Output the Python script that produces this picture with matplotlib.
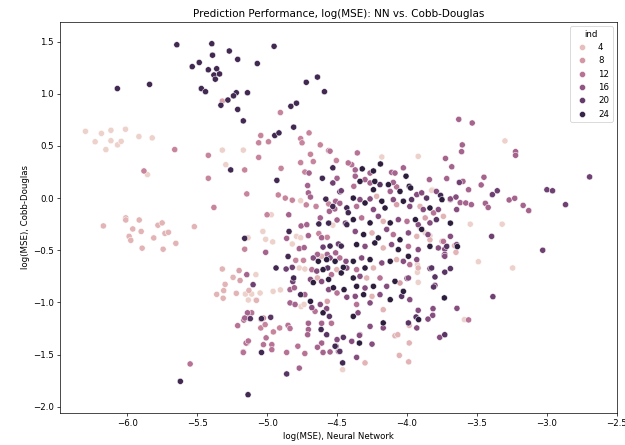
import matplotlib
matplotlib.use("Agg")
import matplotlib.pyplot as plt
import pandas as pd
import seaborn as sns

# (log MSE neural network, log MSE Cobb-Douglas), grouped by colour of ind
light_points = [
    (-6.298, 0.64), (-6.229, 0.54), (-6.184, 0.62), (-6.116, 0.65), (-6.116, 0.55), (-6.152, 0.465),
    (-6.069, 0.51), (-6.043, 0.544), (-6.012, 0.66), (-5.916, 0.59), (-5.821, 0.577),
    (-5.855, 0.225), (-5.32, 0.46), (-5.295, 0.32), (-5.17, 0.46), (-4.76, -0.025), (-4.97, -0.16),
    (-3.30, 0.548), (-3.92, 0.40), (-3.82, 0.08), (-3.548, -0.25), (-3.32, -0.25), (-3.49, -0.61),
    (-3.245, -0.67), (-3.59, -1.165), (-4.53, -0.26), (-5.136, -0.38), (-5.03, -0.32), (-5.01, -0.395),
    (-4.96, -0.42), (-4.82, -0.44), (-4.79, -0.367), (-4.76, -0.38), (-5.08, -0.734), (-5.155, -0.92),
    (-5.11, -0.92), (-5.134, -0.977), (-5.08, -0.977), (-5.05, -0.91), (-4.957, -0.894), (-4.905, -0.88),
    (-4.77, -0.67), (-4.73, -0.68), (-4.757, -1.04), (-4.736, -1.02), (-5.045, -1.165), (-4.46, -1.645),
    (-4.18, 0.394), (-3.824, 0.074), (-3.92, -0.808), (-3.926, -0.712), (-3.926, -0.64), (-3.907, -0.286),
    (-3.87, -0.334), (-3.836, -0.36), (-3.66, -0.456), (-3.65, -0.52), (-3.75, -0.415), (-3.984, -1.22),
    (-3.984, -1.389), (-4.055, -1.508), (-3.988, -1.57), (-4.086, -1.32), (-4.066, -1.31), (-4.30, -1.58),
    (-6.17, -0.267), (-6.01, -0.19), (-6.01, -0.21), (-5.96, -0.296), (-5.914, -0.21), (-5.90, -0.32),
    (-5.986, -0.367), (-5.974, -0.405), (-5.893, -0.48), (-5.81, -0.382), (-5.78, -0.26), (-5.75, -0.238),
    (-5.73, -0.338), (-5.705, -0.328), (-5.743, -0.49), (-5.652, -0.434), (-5.52, -0.274),
    (-5.32, -0.68), (-5.30, -0.827), (-5.36, -0.923), (-5.31, -0.887), (-5.314, -0.96), (-5.243, -0.76),
    (-5.22, -0.913), (-5.13, -0.885), (-5.076, -0.98),
    (-4.217, 0.017), (-3.907, -0.08), (-3.74, -0.175), (-4.17, -0.223), (-4.25, -0.334), (-3.93, -0.367),
    (-4.17, -0.478), (-3.836, -0.40), (-4.24, -0.67), (-4.074, -0.59), (-3.92, -0.67), (-4.288, -0.766),
    (-4.25, -0.942), (-4.17, -1.07), (-4.64, -0.765), (-4.61, -0.558), (-4.502, -0.686),
]
rose_points = [
    (-5.20, -0.695), (-5.193, -0.79), (-4.074, -0.063), (-3.87, -0.19), (-4.05, -0.814), (-4.57, -0.99),
    (-5.32, 0.93),
]
pink_points = [
    (-4.905, 0.82), (-5.66, 0.465), (-5.88, 0.26), (-5.42, 0.41), (-5.16, 0.27), (-5.42, 0.19),
    (-5.145, 0.04), (-5.38, -0.09), (-5.06, 0.53), (-5.045, 0.60), (-4.99, 0.54), (-5.06, 0.39),
    (-4.9, 0.285), (-4.92, 0.03), (-4.87, 0.0), (-4.82, -0.02), (-4.72, -0.065), (-5.0, -0.16),
    (-4.76, 0.57), (-4.75, 0.53), (-4.70, 0.625), (-4.62, 0.51), (-4.56, 0.455), (-4.76, 0.34),
    (-4.69, 0.42), (-4.67, 0.35), (-4.73, 0.25), (-4.65, -0.08), (-4.505, 0.36), (-4.56, -0.056),
    (-4.63, -0.34), (-4.57, -0.376), (-5.16, -0.49), (-4.795, -0.597), (-4.74, -0.597), (-5.026, -1.15),
    (-5.045, -1.245), (-5.014, -1.213), (-4.955, -1.283), (-4.91, -1.245), (-4.85, -1.22), (-4.836, -1.25),
    (-5.007, -1.34), (-5.026, -1.405), (-4.966, -1.405), (-5.145, -1.39), (-5.17, -1.475), (-4.966, -1.453),
    (-4.86, -1.48), (-4.78, -1.42), (-4.73, -1.49), (-4.54, -1.2), (-5.55, -1.59), (-5.21, -1.223),
    (-5.166, -1.17), (-5.13, -1.15), (-5.11, -1.10), (-5.15, -1.39), (-5.134, -1.37), (-5.17, -1.48),
    (-3.56, -1.168), (-4.355, 0.433), (-4.395, 0.32), (-4.38, 0.113), (-4.074, 0.107), (-4.42, 0.337),
    (-4.55, 0.45), (-4.36, -0.08), (-3.81, -0.142), (-4.324, -0.19), (-4.00, -0.223), (-4.098, -0.35),
    (-3.74, -0.415), (-3.99, -0.463), (-4.36, -0.686), (-3.98, -0.638), (-4.193, -0.766), (-4.36, -1.02),
    (-4.336, -1.31), (-4.54, -0.734), (-4.48, -0.574), (-4.68, -0.686), (-4.50, -0.91), (-4.657, -1.086),
]
mauve_points = [
    (-3.63, 0.755), (-3.534, 0.72), (-3.605, 0.51), (-3.61, 0.445), (-3.224, 0.445), (-3.224, 0.41),
    (-3.725, 0.38), (-3.68, 0.30), (-3.716, 0.187), (-3.60, 0.16), (-3.56, 0.08), (-3.47, 0.126),
    (-3.45, 0.20), (-3.27, -0.018), (-3.23, -0.002), (-3.17, -0.07), (-3.13, -0.12), (-3.62, -0.044),
    (-3.58, -0.047), (-3.54, -0.063), (-3.44, -0.05), (-3.42, -0.09), (-3.69, -0.015), (-3.84, 0.177),
    (-4.845, -0.16), (-4.70, 0.24), (-4.71, 0.12), (-4.705, 0.05), (-4.69, 0.01), (-4.5, 0.19),
    (-4.51, -0.03), (-4.48, -0.05), (-4.62, -0.19), (-4.555, -0.127), (-4.516, -0.104), (-4.50, -0.21),
    (-4.757, -0.267), (-4.716, -0.255), (-4.86, -0.386), (-4.705, -0.36), (-4.61, -0.38), (-4.77, -0.485),
    (-4.735, -0.475), (-5.01, -0.52), (-4.64, -0.54), (-4.57, -0.54), (-4.51, -0.525), (-5.145, -0.734),
    (-4.836, -0.878), (-4.805, -0.86), (-4.73, -0.926), (-4.836, -1.005), (-4.8, -1.02), (-5.14, -1.10),
    (-5.16, -1.15), (-4.705, -1.20), (-4.705, -1.26), (-4.71, -1.31), (-4.61, -1.20), (-4.61, -1.39),
    (-4.64, -1.43), (-4.60, -1.48), (-4.55, -1.475), (-4.49, -1.47), (-4.77, -1.63), (-4.37, 0.27),
    (-4.264, 0.24), (-4.11, 0.247), (-4.086, 0.24), (-4.026, 0.29), (-4.37, 0.21), (-4.30, 0.177),
    (-4.264, 0.145), (-4.098, 0.15), (-4.12, 0.064), (-3.93, 0.033), (-3.895, 0.05), (-3.79, 0.064),
    (-3.69, -0.008), (-3.65, 0.01), (-3.73, -0.49), (-3.735, -0.55), (-3.836, -0.676), (-3.643, -1.057),
    (-3.814, -1.06), (-3.816, -1.124), (-3.85, -1.16), (-3.92, -1.076), (-3.93, -1.245), (-4.0, -0.77),
    (-4.36, -1.527), (-4.25, -1.40), (-4.34, -1.316), (-4.50, -1.357), (-4.507, -1.42), (-3.766, -1.335),
    (-3.80, -0.836), (-4.336, -0.015), (-4.264, -0.008), (-4.24, -0.11), (-4.098, -0.015), (-3.98, -0.08),
    (-3.884, -0.11), (-3.776, -0.11), (-3.645, -0.11), (-4.205, -0.175), (-4.062, -0.207), (-3.92, -0.255),
    (-3.836, -0.238), (-4.37, -0.32), (-4.145, -0.30), (-3.99, -0.334), (-3.85, -0.35), (-3.69, -0.367),
    (-4.30, -0.463), (-4.11, -0.446), (-3.92, -0.494), (-3.776, -0.478), (-3.645, -0.446), (-3.73, -0.54),
    (-4.324, -0.574), (-4.18, -0.622), (-4.026, -0.606), (-3.93, -0.59), (-4.336, -0.75), (-4.30, -0.862),
    (-4.145, -0.846), (-3.99, -0.766), (-3.73, -0.558), (-4.37, -0.942), (-4.193, -0.926), (-4.35, -1.10),
    (-4.264, -1.005), (-3.98, -0.974), (-4.264, -1.23), (-4.17, -1.245), (-4.395, -1.373), (-4.69, -0.78),
    (-4.61, -0.80), (-4.67, -0.574), (-4.55, -0.574), (-4.436, -0.606), (-4.645, -0.70), (-4.43, -0.67),
    (-4.56, -0.878), (-4.43, -0.95), (-4.68, -1.05), (-4.62, -1.02), (-4.574, -1.06),
]
purple_points = [
    (-3.626, 0.15), (-3.355, 0.07), (-3.39, 0.033), (-2.695, 0.203), (-3.0, 0.08), (-2.96, 0.07),
    (-2.867, -0.063), (-3.395, -0.367), (-3.03, -0.50), (-3.386, -0.945), (-4.53, 0.145), (-4.48, 0.06),
    (-4.47, 0.07), (-4.44, -0.24), (-4.60, -0.47), (-4.49, -0.44), (-5.10, -0.83), (-4.864, -0.68),
    (-4.82, -0.664), (-4.816, -0.80), (-5.12, -1.156), (-4.974, -1.143), (-4.86, -1.686), (-4.574, -1.31),
    (-4.193, 0.129), (-3.86, 0.0), (-3.69, -0.676), (-3.73, -0.71), (-3.80, -0.756), (-3.81, -0.852),
    (-3.73, -1.31), (-4.455, -1.335), (-4.48, -1.47), (-4.038, -0.942), (-3.935, -1.14), (-3.967, -0.015),
    (-3.79, -0.207), (-3.716, -0.463), (-3.824, -0.67), (-3.99, -1.197), (-4.567, -0.67), (-4.555, -1.134),
]
dark_points = [
    (-5.645, 1.47), (-5.395, 1.48), (-5.39, 1.37), (-5.27, 1.41), (-5.21, 1.33), (-4.95, 1.455),
    (-5.535, 1.26), (-5.485, 1.30), (-5.42, 1.23), (-5.36, 1.24), (-5.38, 1.18), (-5.34, 1.19),
    (-5.37, 1.14), (-5.07, 1.29), (-6.07, 1.05), (-5.84, 1.09), (-5.47, 1.05), (-5.44, 1.02),
    (-5.22, 1.01), (-5.24, 0.98), (-5.28, 0.94), (-5.33, 0.89), (-5.14, 1.01), (-5.21, 0.85),
    (-5.17, 0.74), (-4.72, 1.11), (-4.64, 1.16), (-4.59, 1.02), (-4.83, 0.88), (-4.79, 0.91),
    (-4.81, 0.68), (-4.945, 0.60), (-4.915, 0.625), (-5.26, 0.27), (-4.93, 0.17), (-4.605, 0.19),
    (-4.53, 0.29), (-4.58, -0.01), (-3.76, 0.026), (-4.53, -0.08), (-4.43, -0.094), (-4.42, -0.14),
    (-4.56, -0.24), (-4.43, -0.255), (-5.16, -0.386), (-4.843, -0.32), (-4.63, -0.248), (-4.55, -0.46),
    (-4.47, -0.46), (-4.936, -0.67), (-4.85, -0.56), (-4.81, -0.766), (-4.76, -0.926), (-4.614, -1.26),
    (-4.514, -1.42), (-4.46, -1.58), (-5.62, -1.757), (-5.136, -1.885), (-5.04, -1.156), (-5.04, -1.48),
    (-4.19, 0.327), (-4.32, 0.28), (-4.24, 0.26), (-4.007, 0.21), (-3.984, 0.113), (-3.974, 0.097),
    (-4.336, 0.16), (-4.23, 0.16), (-4.24, 0.08), (-4.133, 0.129), (-4.05, 0.064), (-3.75, -0.015),
    (-3.64, -0.465), (-3.733, -0.957), (-4.026, -0.894), (-3.917, -1.165), (-4.34, -1.39),
    (-4.384, 0.0), (-4.30, -0.047), (-4.18, -0.03), (-4.157, -0.095), (-4.026, -0.03), (-3.836, -0.095),
    (-3.69, -0.24), (-4.384, -0.207), (-4.264, -0.238), (-4.12, -0.238), (-3.94, -0.207), (-4.31, -0.35),
    (-4.205, -0.382), (-4.05, -0.40), (-3.895, -0.30), (-4.36, -0.446), (-4.23, -0.43), (-4.062, -0.494),
    (-3.836, -0.463), (-4.384, -0.606), (-4.264, -0.59), (-4.30, -0.67), (-4.12, -0.606), (-3.99, -0.558),
    (-4.384, -0.766), (-4.36, -0.846), (-4.24, -0.846), (-4.086, -0.798), (-4.31, -0.926), (-4.12, -0.974),
    (-4.384, -1.134), (-4.17, -1.197), (-4.67, -0.81), (-4.56, -0.78), (-4.634, -0.606), (-4.574, -0.59),
    (-4.514, -0.606), (-4.455, -0.664), (-4.60, -0.686), (-4.47, -0.718), (-4.526, -0.86), (-4.45, -0.878),
    (-4.69, -0.99), (-4.60, -1.10),
]

# ind values of each colour group (each group holds two neighbouring ind values)
groups = [
    (2, light_points[:55]), (5, light_points[55:]),
    (7, rose_points),
    (10, pink_points[:40]), (12, pink_points[40:]),
    (14, mauve_points[:75]), (17, mauve_points[75:]),
    (19, purple_points[:20]), (21, purple_points[20:]),
    (23, dark_points[:60]), (25, dark_points[60:]),
]
frames = []
for ind, pts in groups:
    nn, cd = zip(*pts)
    frames.append(pd.DataFrame({"nn": nn, "cd": cd, "ind": ind}))
df = pd.concat(frames, ignore_index=True)

fig = plt.figure(figsize=(10, 7.12), dpi=62.5)
ax = fig.add_axes([0.096, 0.072, 0.891, 0.879])
sns.scatterplot(data=df, x="nn", y="cd", hue="ind", s=50, ax=ax)

ax.set_xlim(-6.48, -2.5)
ax.set_ylim(-2.06, 1.69)
ax.set_title("Prediction Performance, log(MSE): NN vs. Cobb-Douglas")
ax.set_xlabel("log(MSE), Neural Network")
ax.set_ylabel("log(MSE), Cobb-Douglas")
sns.move_legend(ax, "upper right")

fig.savefig("out.png", dpi=62.5)
